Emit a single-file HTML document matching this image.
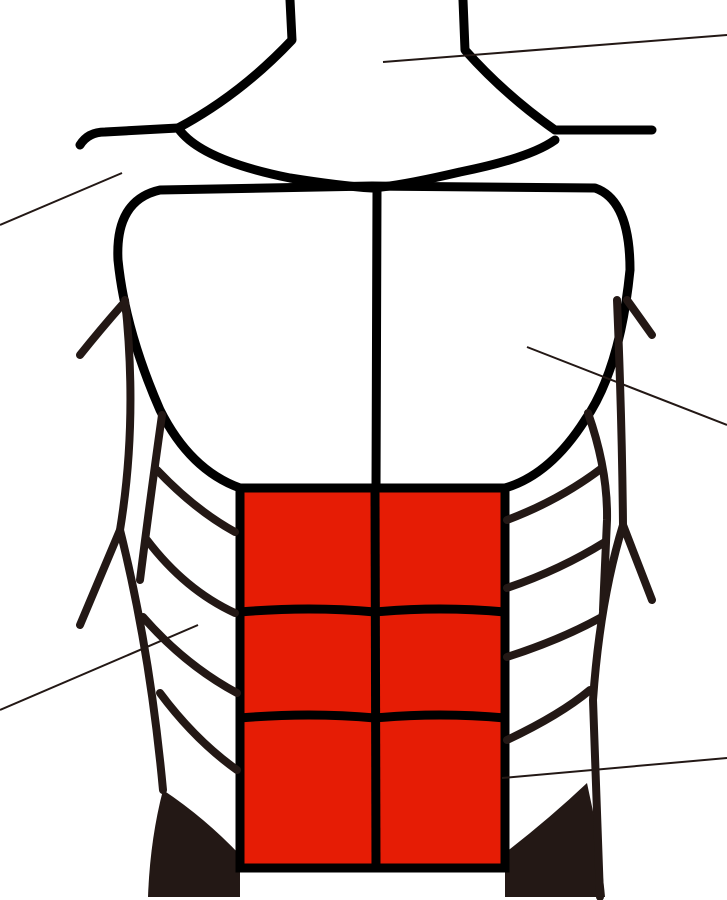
<!DOCTYPE html>
<html><head><meta charset="utf-8"><style>
html,body{margin:0;padding:0;background:#fff;}
svg{display:block;}
</style></head><body>
<svg width="727" height="900" viewBox="0 0 727 900" xmlns="http://www.w3.org/2000/svg">
<g fill="#231815">
  <path d="M148 897 Q150 840 163 790 Q205 818 240 855 L240 897 Z"/>
  <path d="M505 897 L505 853 Q550 818 587 783 Q600 840 605 897 Z"/>
</g>
<g fill="none" stroke="#000" stroke-width="9" stroke-linecap="round" stroke-linejoin="round">
  <path d="M290 0 L292 40 Q240 95 178 128"/>
  <path d="M463 0 L465 50 Q505 95 555 130"/>
  <path d="M80 145 Q88 132 105 132 L178 128"/>
  <path d="M555 130 L652 130"/>
  <path d="M178 128 Q200 160 290 178 Q340 186 372 188 Q400 186 460 172 Q530 158 555 140"/>
  <path d="M240 488 Q190 470 160 410 Q125 330 118 260 Q115 200 160 190 L372 186 L595 188 Q630 200 630 270 Q620 370 585 420 Q550 475 505 488 Z"/>
  <path d="M377 190 L376 490"/>
</g>
<g>
  <rect x="240" y="488" width="265" height="380" fill="#e61c05" stroke="#000" stroke-width="9"/>
  <g fill="none" stroke="#000" stroke-width="9">
    <path d="M375 488 L376 868"/>
    <path d="M240 612 Q310 606 375 612 Q440 606 505 612"/>
    <path d="M240 718 Q310 712 375 718 Q440 712 505 718"/>
  </g>
</g>
<g fill="none" stroke="#231815" stroke-width="8" stroke-linecap="round" stroke-linejoin="round">
  <path d="M162 415 Q150 500 140 580"/>
  <path d="M157 470 Q195 510 235 532"/>
  <path d="M147 540 Q185 590 235 613"/>
  <path d="M143 617 Q185 665 237 693"/>
  <path d="M160 693 Q195 740 237 770"/>
  <path d="M80 355 Q100 330 122 305"/>
  <path d="M125 300 Q138 420 120 530 L80 625"/>
  <path d="M120 530 Q150 650 163 790"/>
  <path d="M588 413 Q608 470 607 520 L603 610"/>
  <path d="M507 520 Q560 500 602 468"/>
  <path d="M507 588 Q560 570 605 542"/>
  <path d="M507 657 Q560 640 600 618"/>
  <path d="M507 740 Q560 715 590 690"/>
  <path d="M617 300 Q622 420 623 525 L652 600"/>
  <path d="M623 525 Q600 600 593 700 L600 897"/>
  <path d="M652 335 Q640 318 627 300"/>
</g>
<g stroke="#231815" stroke-width="2">
  <line x1="383" y1="62" x2="727" y2="35"/>
  <line x1="0" y1="225" x2="122" y2="173"/>
  <line x1="527" y1="347" x2="727" y2="425"/>
  <line x1="0" y1="710" x2="198" y2="625"/>
  <line x1="502" y1="778" x2="727" y2="758"/>
</g>
</svg>
</body></html>
